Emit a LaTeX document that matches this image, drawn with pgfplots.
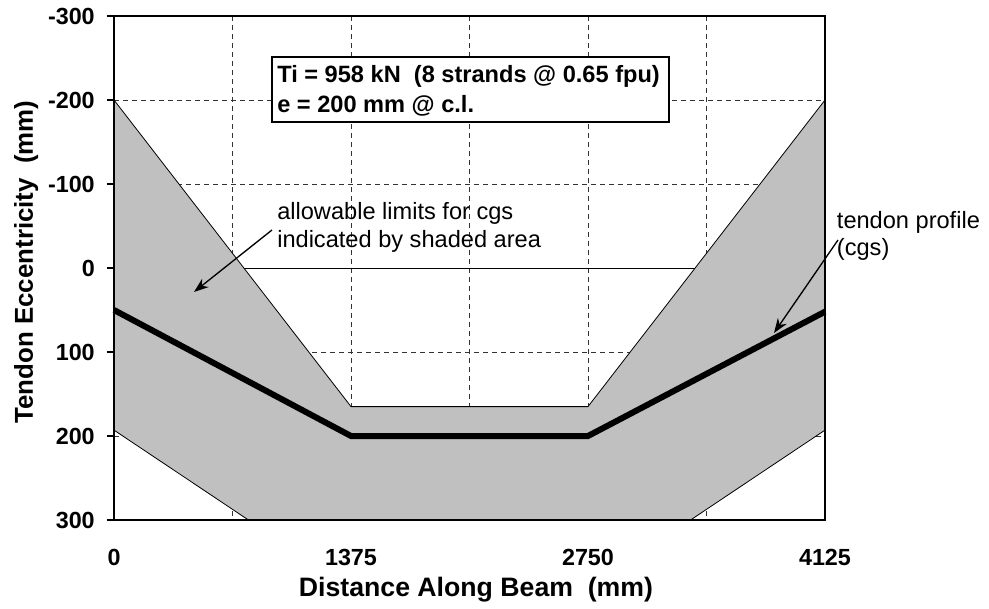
\documentclass[border=0pt]{standalone}
\usepackage{fontspec}
\setmainfont{Liberation Sans}
\usepackage{pgfplots}
\pgfplotsset{compat=1.18}
\usetikzlibrary{arrows.meta}
\definecolor{silver}{RGB}{192,192,192}

\begin{document}
\begin{tikzpicture}
\path[use as bounding box] (-85.5pt,-66.75pt) rectangle (656.25pt,390pt);
\begin{axis}[
    at={(0,0)}, anchor=south west,
    scale only axis,
    width=533.25pt, height=378pt,
    xmin=0, xmax=4125,
    ymin=-300, ymax=300,
    y dir=reverse,
    clip=false,
    axis line style={black, line width=1pt},
    xtick={0,687.5,...,4125},
    xticklabels={0,,1375,,2750,,4125},
    ytick={-300,-200,...,300},
    xtick style={draw=none},
    ytick style={black, line width=0.8pt},
    tick align=outside,
    major tick length=5.25pt,
    xtick pos=bottom, ytick pos=left,
    grid=major,
    major grid style={black!80, line width=0.5pt, dash pattern=on 3.75pt off 3pt},
    /pgf/number format/assume math mode=true,
    ticklabel style={font=\fontsize{17.5}{20}\selectfont\bfseries},
    xticklabel style={anchor=north, inner sep=0pt, yshift=-16.5pt},
    yticklabel style={anchor=east, inner sep=0pt, xshift=-9pt},
]
% solid line along e = 0
\addplot[black, line width=0.6pt] coordinates {(0,0) (4125,0)};
% allowable zone for the cgs
\addplot[fill=silver, draw=none] coordinates {
    (0,-200) (1375,165) (2750,165) (4125,-200)
    (4125,193) (3345,300) (780,300) (0,193)} -- cycle;
\addplot[black, line width=0.6pt] coordinates {(0,-200) (1375,165) (2750,165) (4125,-200)};
\addplot[black, line width=0.6pt] coordinates {(0,193) (780,300) (3345,300) (4125,193)};
% tendon profile
\addplot[black, line width=4.5pt] coordinates {(0,50) (1375,200) (2750,200) (4125,52)};
\end{axis}
\draw[black, line width=1pt] (0,0) rectangle (533.25pt,378pt);

% axis titles
\node[rotate=90, anchor=base, font=\fontsize{19.4}{24}\selectfont\bfseries]
    at (-60.75pt,193.5pt) {Tendon Eccentricity\ \ (mm)};
\node[anchor=base, font=\fontsize{20}{24}\selectfont\bfseries]
    at (271.5pt,-57.75pt) {Distance Along Beam\ \ (mm)};

% info box
\draw[black, line width=1.5pt, fill=white] (118.5pt,347.25pt) rectangle (416.25pt,298.5pt);
\node[anchor=base west, inner sep=0pt, font=\fontsize{17.7}{21}\selectfont\bfseries]
    at (122.25pt,327.75pt) {Ti = 958 kN\ \ (8 strands @ 0.65 fpu)};
\node[anchor=base west, inner sep=0pt, font=\fontsize{17.7}{21}\selectfont\bfseries]
    at (122.25pt,305.25pt) {e = 200 mm @ c.l.};

% notes
\node[anchor=base west, inner sep=0pt, font=\fontsize{17.7}{21}\selectfont]
    at (122.25pt,225pt) {allowable limits for cgs};
\node[anchor=base west, inner sep=0pt, font=\fontsize{17.7}{21}\selectfont]
    at (122.25pt,204pt) {indicated by shaded area};
\draw[black, line width=1pt, -{Stealth[length=11pt,width=8pt]}] (118.5pt,217.5pt) -- (60pt,171pt);

\node[anchor=base west, inner sep=0pt, font=\fontsize{17.7}{21}\selectfont]
    at (542pt,218.25pt) {tendon profile};
\node[anchor=base west, inner sep=0pt, font=\fontsize{17.7}{21}\selectfont]
    at (542pt,198pt) {(cgs)};
\draw[black, line width=1pt, -{Stealth[length=11pt,width=8pt]}] (543pt,210pt) -- (495pt,140.25pt);
\end{tikzpicture}
\end{document}
